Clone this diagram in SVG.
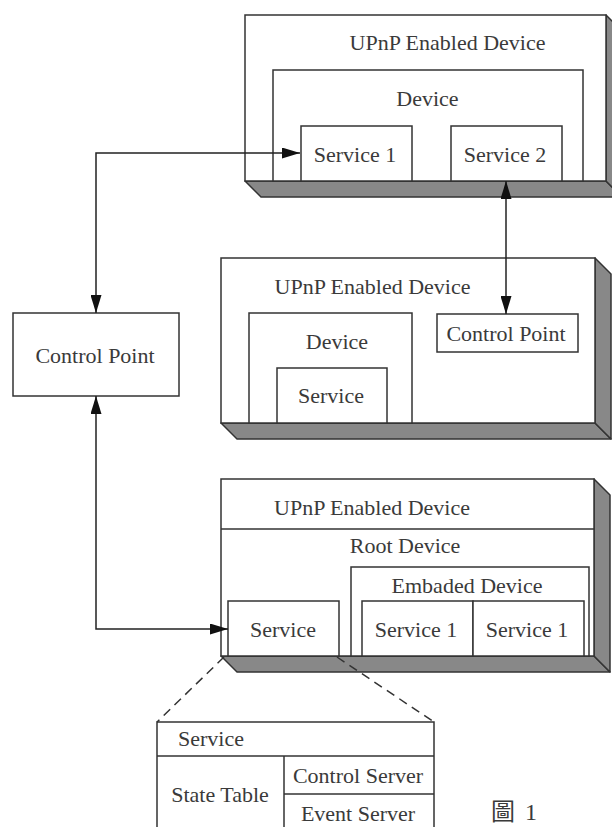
<svg xmlns="http://www.w3.org/2000/svg" width="612" height="827" viewBox="0 0 612 827">
<style>
.box{fill:#fff;stroke:#333;stroke-width:1.5}
.shade{fill:#888;stroke:#333;stroke-width:1.5;stroke-linejoin:round}
.ln{fill:none;stroke:#333;stroke-width:1.5}
.conn{fill:none;stroke:#222;stroke-width:1.5}
.dash{fill:none;stroke:#333;stroke-width:1.5;stroke-dasharray:9,6}
text{font-family:"Liberation Serif","Noto Sans CJK TC",serif;font-size:22px;fill:#3a3a3a;text-anchor:middle}
.st{text-anchor:start}
.cap{font-size:24px;word-spacing:4px}
</style>
<defs>
<marker id="ah" viewBox="0 0 18 11" refX="18" refY="5.5" markerWidth="18" markerHeight="11" markerUnits="userSpaceOnUse" orient="auto-start-reverse">
<path d="M0,0 L18,5.5 L0,11 Z" fill="#111"/>
</marker>
</defs>

<g id="device-top">
<polygon class="shade" points="245,181 606,181 622,197 261,197"/>
<polygon class="shade" points="606,15 622,31 622,197 606,181"/>
<rect class="box" x="245" y="15" width="361" height="166"/>
<text x="447.5" y="50">UPnP Enabled Device</text>
</g>
<g id="top-device">
<rect class="box" x="273" y="70" width="310" height="111"/>
<text x="427.5" y="106">Device</text>
</g>
<g id="top-service1">
<rect class="box" x="301" y="126" width="111" height="55"/>
<text x="355" y="162">Service 1</text>
</g>
<g id="top-service2">
<rect class="box" x="451" y="126" width="111" height="55"/>
<text x="505" y="162">Service 2</text>
</g>

<g id="device-middle">
<polygon class="shade" points="221,423 595,423 611,439 237,439"/>
<polygon class="shade" points="595,258 611,274 611,439 595,423"/>
<rect class="box" x="221" y="258" width="374" height="165"/>
<text x="372.5" y="294">UPnP Enabled Device</text>
</g>
<g id="mid-device">
<rect class="box" x="249" y="313" width="163" height="110"/>
<text x="337" y="349">Device</text>
</g>
<g id="mid-service">
<rect class="box" x="277" y="368" width="110" height="55"/>
<text x="331" y="403">Service</text>
</g>
<g id="mid-control-point">
<rect class="box" x="437" y="314" width="141" height="38"/>
<text x="506" y="341">Control Point</text>
</g>

<g id="control-point">
<rect class="box" x="13" y="313" width="166" height="83"/>
<text x="95" y="363">Control Point</text>
</g>

<g id="device-bottom">
<polygon class="shade" points="221,656 594,656 610,672 237,672"/>
<polygon class="shade" points="594,479 610,495 610,672 594,656"/>
<rect class="box" x="221" y="479" width="373" height="177"/>
<line class="ln" x1="221" y1="529" x2="594" y2="529"/>
<text x="372" y="515">UPnP Enabled Device</text>
<text x="405" y="553">Root Device</text>
</g>
<g id="bot-service">
<rect class="box" x="228" y="601" width="111" height="55"/>
<text x="283" y="637">Service</text>
</g>
<g id="embaded-device">
<rect class="box" x="351" y="567" width="238" height="89"/>
<text x="467" y="593">Embaded Device</text>
</g>
<g id="emb-service1a">
<rect class="box" x="362" y="601" width="111" height="55"/>
<text x="416" y="637">Service 1</text>
</g>
<g id="emb-service1b">
<rect class="box" x="473" y="601" width="111" height="55"/>
<text x="527" y="637">Service 1</text>
</g>

<g id="service-detail">
<rect class="box" x="157" y="722" width="277" height="120"/>
<line class="ln" x1="157" y1="756" x2="434" y2="756"/>
<line class="ln" x1="284" y1="756" x2="284" y2="842"/>
<line class="ln" x1="284" y1="794" x2="434" y2="794"/>
<text class="st" x="178" y="746">Service</text>
<text x="220" y="802">State Table</text>
<text x="358" y="783">Control Server</text>
<text x="358" y="821">Event Server</text>
</g>

<g id="caption">
<text class="st cap" x="491" y="820">圖 1</text>
</g>

<g id="connectors">
<path class="conn" d="M96,313 V153 H300" marker-start="url(#ah)" marker-end="url(#ah)"/>
<path class="conn" d="M96,396 V629 H228" marker-start="url(#ah)" marker-end="url(#ah)"/>
<path class="conn" d="M506,181 V314" marker-start="url(#ah)" marker-end="url(#ah)"/>
<line class="dash" x1="224" y1="657" x2="157" y2="722"/>
<line class="dash" x1="337" y1="657" x2="434" y2="722"/>
</g>
</svg>
